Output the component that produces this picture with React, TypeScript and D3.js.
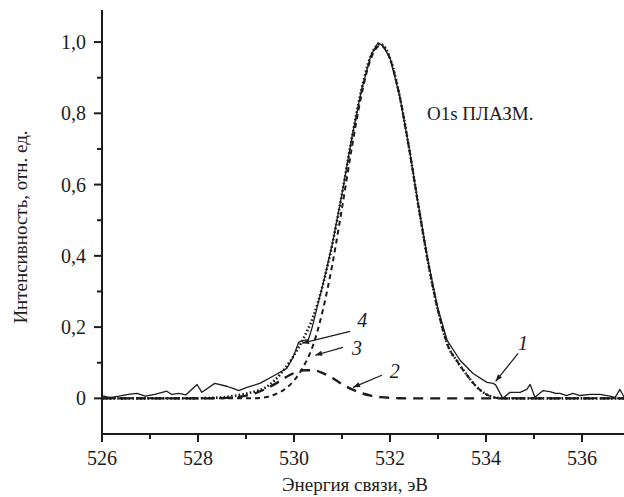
import * as d3 from "d3";

// fit grid (binding energy, eV)
const fitEnergy = [526.0, 528.0, 528.2, 528.4, 528.6, 528.8, 529.0, 529.2, 529.4, 529.6, 529.8, 530.0, 530.2, 530.4, 530.6, 530.8, 531.0, 531.2, 531.4, 531.6, 531.8, 532.0, 532.2, 532.4, 532.6, 532.8, 533.0, 533.2, 533.4, 533.6, 533.8, 534.0, 534.2, 534.4, 534.6, 537.0];
// curve 2 - small component (long dash)
const peak2 = [0, 0, 0, 0.0005, 0.0015, 0.0035, 0.0077, 0.015, 0.026, 0.04, 0.057, 0.071, 0.079, 0.079, 0.071, 0.057, 0.04, 0.026, 0.015, 0.0077, 0.0035, 0.0015, 0.0005, 0, 0, 0, 0, 0, 0, 0, 0, 0, 0, 0, 0, 0];
// curve 3 - main component (short dash)
const peak3 = [0, 0, 0, 0, 0, 0, 0, 0.0005, 0.003, 0.011, 0.025, 0.05, 0.09, 0.15, 0.247, 0.377, 0.534, 0.7, 0.848, 0.953, 0.99, 0.953, 0.848, 0.7, 0.534, 0.377, 0.247, 0.15, 0.104, 0.066, 0.033, 0.012, 0.002, 0, 0, 0];
// curve 4 - envelope (dotted)
const envelope = [0, 0, 0.001, 0.002, 0.004, 0.008, 0.013, 0.02, 0.03, 0.051, 0.082, 0.121, 0.169, 0.229, 0.318, 0.434, 0.574, 0.726, 0.863, 0.961, 0.994, 0.955, 0.849, 0.7, 0.534, 0.377, 0.247, 0.15, 0.104, 0.066, 0.033, 0.012, 0.002, 0, 0, 0];

// curve 1 - measured spectrum (solid)
const expEnergy = [526.0, 526.1, 526.2, 526.35, 526.55, 526.73, 526.9, 527.1, 527.35, 527.45, 527.6, 527.75, 527.98, 528.08, 528.35, 528.6, 528.73, 528.85, 529.02, 529.29, 529.56, 529.85, 529.98, 530.1, 530.2, 530.3, 530.38, 530.5, 530.6, 530.8, 531.0, 531.2, 531.4, 531.6, 531.75, 531.85, 532.0, 532.2, 532.4, 532.6, 532.8, 533.0, 533.19, 533.46, 533.73, 534.02, 534.15, 534.2, 534.35, 534.5, 534.71, 534.85, 534.92, 535.02, 535.19, 535.33, 535.45, 535.54, 535.68, 535.81, 535.96, 536.17, 536.37, 536.58, 536.69, 536.79, 536.88];
const expIntensity = [0.008, 0.004, 0.003, 0.006, 0.011, 0.014, 0.006, 0.011, 0.02, 0.011, 0.014, 0.01, 0.039, 0.017, 0.042, 0.034, 0.028, 0.022, 0.031, 0.042, 0.062, 0.084, 0.115, 0.158, 0.163, 0.165, 0.2, 0.265, 0.318, 0.434, 0.574, 0.728, 0.862, 0.962, 0.998, 0.99, 0.955, 0.85, 0.702, 0.536, 0.38, 0.25, 0.163, 0.107, 0.07, 0.045, 0.042, 0.038, 0, 0.017, 0.017, 0.025, 0.039, 0.003, 0.022, 0.019, 0.014, 0.014, 0.008, 0.014, 0.008, 0.011, 0.011, 0.006, 0.003, 0.025, 0.003];

const xTicks = [526, 528, 530, 532, 534, 536];
const xMinor = [527, 529, 531, 533, 535];
const yTicks = [0, 0.2, 0.4, 0.6, 0.8, 1.0];
const yMinor = [0.1, 0.3, 0.5, 0.7, 0.9];

// curve number labels: text at (e, v), arrow from (e1, v1) to tip (e2, v2)
const labels = [
  { text: "1", e: 534.77, v: 0.135, e1: 534.67, v1: 0.126, e2: 534.2, v2: 0.048 },
  { text: "2", e: 532.1, v: 0.056, e1: 531.83, v1: 0.065, e2: 531.23, v2: 0.031 },
  { text: "3", e: 531.31, v: 0.121, e1: 531.02, v1: 0.143, e2: 530.44, v2: 0.121 },
  { text: "4", e: 531.42, v: 0.2, e1: 531.17, v1: 0.188, e2: 530.17, v2: 0.155 },
];

const W = 624;
const H = 497;
const ink = "#1c1c1c";
const serif = "'Liberation Serif', 'Times New Roman', serif";

export default function App() {
  const x = d3.scaleLinear().domain([526, 537]).range([102, 630]);
  const y = d3.scaleLinear().domain([-0.1, 1.09]).range([434, 10]);
  const x0 = x(526);
  const yBase = y(-0.1);

  const fitLine = (vals: number[]) =>
    d3.line<number>()
      .x((_, i) => x(fitEnergy[i]))
      .y((d) => y(d))
      .curve(d3.curveMonotoneX)(vals) as string;

  const expLine = d3.line<number>()
    .x((_, i) => x(expEnergy[i]))
    .y((d) => y(d))(expIntensity) as string;

  const fmt = (v: number) => (v === 0 ? "0" : d3.format(".1f")(v).replace(".", ","));

  const arrowHead = (l: typeof labels[0]) => {
    const ax = x(l.e1), ay = y(l.v1), bx = x(l.e2), by = y(l.v2);
    const ang = Math.atan2(by - ay, bx - ax);
    const len = 7, hw = 2.6;
    const px = bx - len * Math.cos(ang), py = by - len * Math.sin(ang);
    const nx = -Math.sin(ang) * hw, ny = Math.cos(ang) * hw;
    return `${bx},${by} ${px + nx},${py + ny} ${px - nx},${py - ny}`;
  };

  return (
    <svg width={W} height={H} style={{ position: "absolute", left: 0, top: 0, background: "#fff" }}
      fontFamily={serif}>
      {/* curves */}
      <path d={fitLine(peak2)} fill="none" stroke={ink} strokeWidth={2.4} strokeDasharray="10 7" />
      <path d={fitLine(peak3)} fill="none" stroke={ink} strokeWidth={2} strokeDasharray="5 4" />
      <path d={fitLine(envelope)} fill="none" stroke={ink} strokeWidth={2.6} strokeDasharray="1.6 2.2" />
      <path d={expLine} fill="none" stroke={ink} strokeWidth={1.3} strokeLinejoin="round" />

      {/* axes */}
      <line x1={x0} x2={x0} y1={y(1.09)} y2={yBase} stroke={ink} strokeWidth={2} />
      <line x1={x0 - 1} x2={W} y1={yBase} y2={yBase} stroke={ink} strokeWidth={2} />
      {yTicks.map((t) => (
        <g key={"y" + t}>
          <line x1={x0 - 8} x2={x0} y1={y(t)} y2={y(t)} stroke={ink} strokeWidth={2} />
          <text x={86} y={y(t)} dy="0.35em" textAnchor="end" fontSize={20} fill={ink}>{fmt(t)}</text>
        </g>
      ))}
      {yMinor.map((t) => (
        <line key={"ym" + t} x1={x0 - 5} x2={x0} y1={y(t)} y2={y(t)} stroke={ink} strokeWidth={2} />
      ))}
      {xTicks.map((t) => (
        <g key={"x" + t}>
          <line x1={x(t)} x2={x(t)} y1={yBase} y2={yBase + 8} stroke={ink} strokeWidth={2} />
          <text x={x(t)} y={465} textAnchor="middle" fontSize={20} fill={ink}>{t}</text>
        </g>
      ))}
      {xMinor.map((t) => (
        <line key={"xm" + t} x1={x(t)} x2={x(t)} y1={yBase} y2={yBase + 5} stroke={ink} strokeWidth={2} />
      ))}

      {/* axis titles */}
      <text x={355} y={491} textAnchor="middle" fontSize={19} fill={ink}>Энергия связи, эВ</text>
      <text transform="translate(27,227) rotate(-90)" textAnchor="middle" fontSize={19} fill={ink}>
        Интенсивность, отн. ед.
      </text>
      <text x={427} y={120} fontSize={19} fill={ink}>O1s ПЛАЗМ.</text>

      {/* curve numbers */}
      {labels.map((l) => (
        <g key={"l" + l.text}>
          <line x1={x(l.e1)} y1={y(l.v1)} x2={x(l.e2)} y2={y(l.v2)} stroke={ink} strokeWidth={1.2} />
          <polygon points={arrowHead(l)} fill={ink} />
          <text x={x(l.e)} y={y(l.v)} textAnchor="middle" fontSize={20} fontStyle="italic" fill={ink}>{l.text}</text>
        </g>
      ))}
    </svg>
  );
}
